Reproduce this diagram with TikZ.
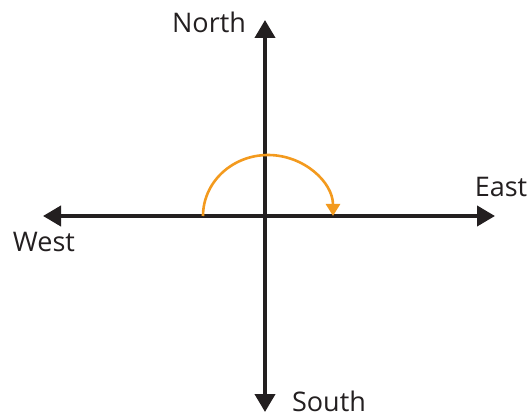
\documentclass[tikz,border=0pt]{standalone}
\usepackage{fontspec}
\setmainfont{Open Sans}
\usepackage{tikz}
\usetikzlibrary{arrows.meta,calc}

\definecolor{axisgray}{HTML}{231F20}
\definecolor{turnorange}{HTML}{F39A1E}

\tikzset{
  axis/.style={line width=4pt,color=axisgray,-{Triangle[length=18pt,width=20pt]}},
  turn/.style={line width=2.6pt,color=turnorange,-{Triangle[length=12pt,width=14pt]}},
  dirlabel/.style={anchor=base,inner sep=0pt,font=\fontsize{27}{30}\selectfont,text=axisgray}
}

\begin{document}
\begin{tikzpicture}[x=1pt,y=-1pt]
\useasboundingbox (0,0) rectangle (531,417);

\coordinate (o) at (265,216);
\coordinate (n) at (265,20);
\coordinate (s) at (265,412);
\coordinate (e) at (495,216);
\coordinate (w) at (43,216);

\draw[axis] (o) -- (n);
\draw[axis] (o) -- (s);
\draw[axis] (o) -- (e);
\draw[axis] (o) -- (w);

% half turn from west side over to east side
\coordinate (turnstart) at (203,216);
\draw[turn] (turnstart) arc[start angle=180,end angle=360,x radius=65,y radius=61];

\node[dirlabel] (northlbl) at (209,33) {North};
\node[dirlabel] (eastlbl) at (501,197) {East};
\node[dirlabel] (westlbl) at (44,252) {West};
\node[dirlabel] (southlbl) at (329,411) {South};

\end{tikzpicture}
\end{document}
